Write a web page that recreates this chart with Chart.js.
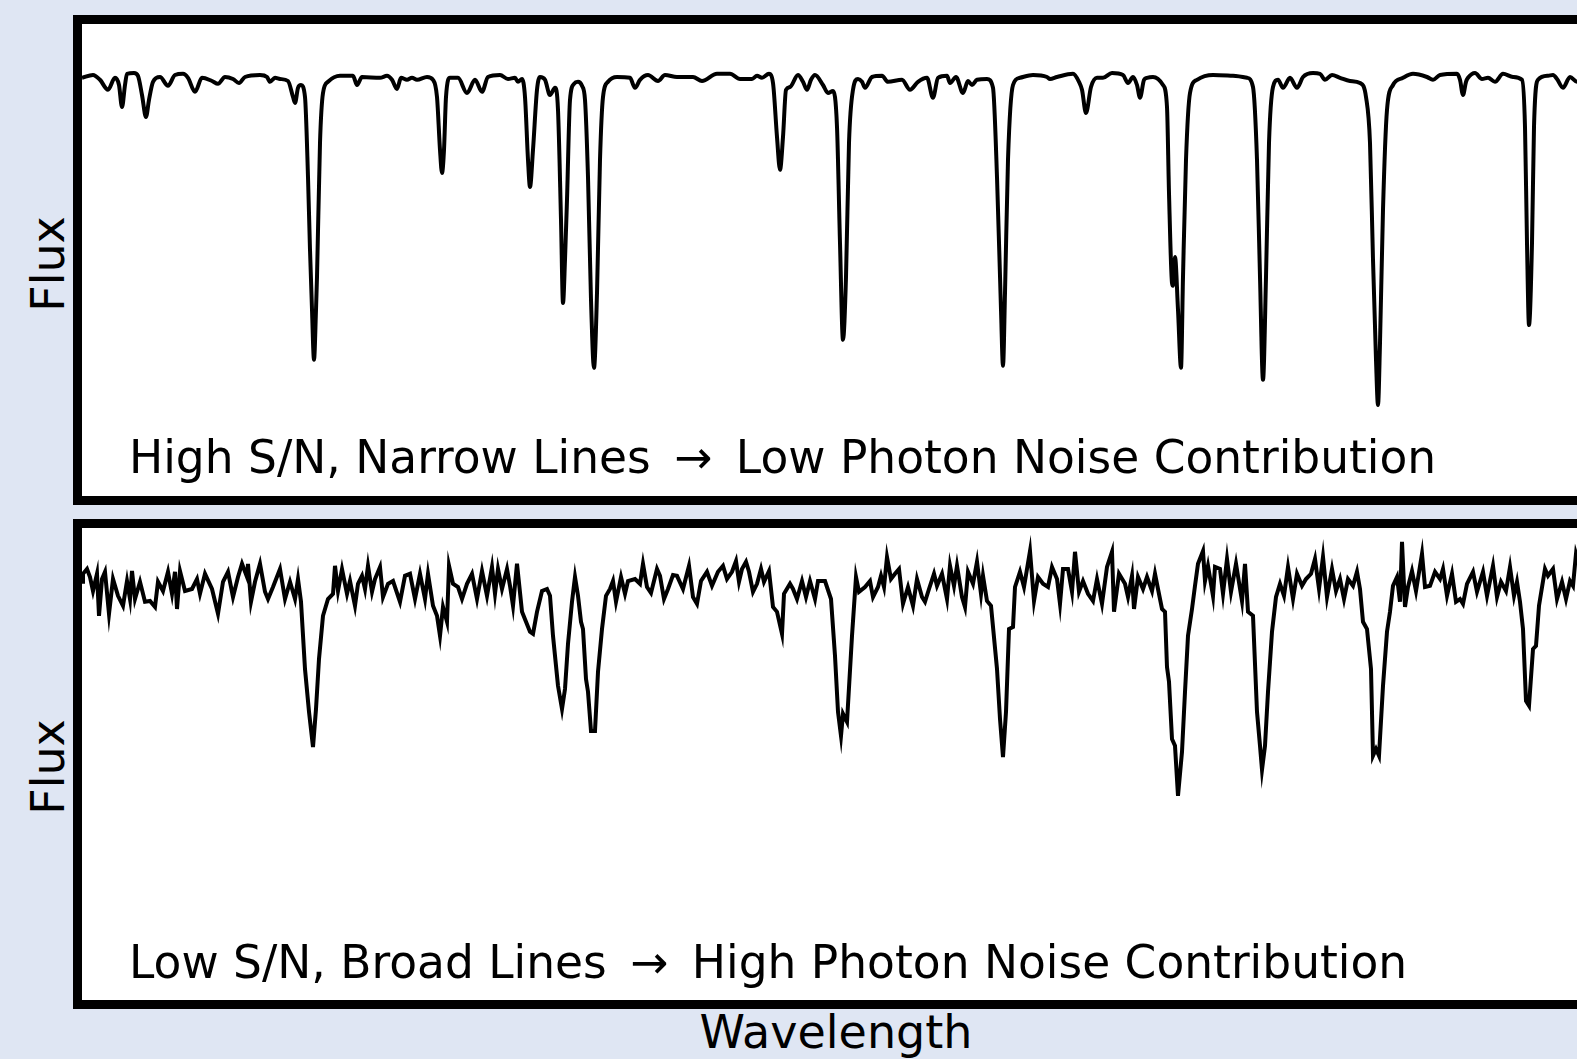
<!DOCTYPE html>
<html>
<head>
<meta charset="utf-8">
<script src="https://cdn.jsdelivr.net/npm/chart.js@4.4.1/dist/chart.umd.min.js"></script>
<style>
  html, body { margin: 0; padding: 0; }
  body {
    width: 1577px; height: 1059px; overflow: hidden; position: relative;
    background: #dfe6f3; font-family: "DejaVu Sans", sans-serif; color: #000;
  }
  .panel {
    position: absolute; left: 73px; width: 1506px; height: 472px;
    border: 9px solid #000; background: #fff;
  }
  .panel canvas { position: absolute; left: 0; top: 0; }
  .note { position: absolute; left: 129px; font-size: 45.5px; line-height: 46px; white-space: nowrap; }
  .note .arrow { margin: 0 9px; }
  .ylab {
    position: absolute; left: 48px; font-size: 46px; line-height: 46px; white-space: nowrap;
    transform: translate(-50%, -50%) rotate(-90deg);
  }
  .xlab { position: absolute; left: 836px; top: 1009px; font-size: 46px; line-height: 46px;
    transform: translateX(-50%); white-space: nowrap; }
</style>
</head>
<body>
<div class="panel" id="topPanel" style="top:15px"><canvas id="topChart"></canvas></div>
<div class="panel" id="bottomPanel" style="top:519px"><canvas id="bottomChart"></canvas></div>
<div class="note" style="top:435px">High S/N, Narrow Lines <span class="arrow">&#8594;</span> Low Photon Noise Contribution</div>
<div class="note" style="top:940px">Low S/N, Broad Lines <span class="arrow">&#8594;</span> High Photon Noise Contribution</div>
<div class="ylab" style="top:264px">Flux</div>
<div class="ylab" style="top:767px">Flux</div>
<div class="xlab">Wavelength</div>
<script>
// high S/N spectrum (top panel), wavelength in arbitrary units
const waveTop = [82, 93, 100, 108, 115, 119, 122, 125, 127, 134, 138, 142, 146, 149, 153, 160, 168, 175, 183, 188,
  195, 202, 212, 218, 225, 233, 239, 245, 260, 267, 270, 275, 280, 288, 293, 295, 298, 301, 305, 308,
  310, 312, 314, 316, 317, 320, 323, 328, 340, 353, 357, 362, 380, 387, 392, 397, 401, 407, 412, 417,
  427, 433, 437, 440, 442, 444, 446, 450, 458, 467, 475, 482, 488, 500, 508, 515, 518, 522, 525, 528,
  530, 533, 537, 540, 545, 550, 555, 558, 561, 563, 565, 567, 570, 574, 578, 582, 585, 588, 591, 594,
  597, 600, 603, 608, 617, 630, 635, 640, 648, 658, 665, 677, 693, 702, 717, 730, 740, 752, 757, 762,
  769, 773, 777, 780, 783, 786, 790, 798, 803, 807, 811, 815, 823, 828, 833, 837, 840, 843, 846, 849,
  853, 858, 862, 865, 872, 882, 888, 902, 910, 918, 927, 933, 938, 947, 950, 956, 963, 968, 972, 977,
  987, 993, 997, 1001, 1003, 1005, 1008, 1013, 1020, 1033, 1047, 1050, 1057, 1073, 1079, 1082, 1086, 1091, 1097, 1103,
  1112, 1123, 1128, 1133, 1137, 1140, 1144, 1147, 1153, 1163, 1167, 1169, 1172, 1173, 1175, 1178, 1181, 1183, 1186, 1190,
  1197, 1213, 1233, 1247, 1253, 1257, 1260, 1263, 1266, 1269, 1273, 1278, 1283, 1290, 1297, 1303, 1313, 1320, 1325, 1332,
  1340, 1350, 1360, 1366, 1370, 1373, 1376, 1378, 1380, 1383, 1387, 1393, 1403, 1413, 1427, 1433, 1440, 1457, 1460, 1463,
  1466, 1468, 1475, 1482, 1488, 1495, 1503, 1513, 1522, 1525, 1527, 1529, 1532, 1534, 1538, 1548, 1553, 1557, 1563, 1570,
  1577, 1590];
const fluxTop = [0.998, 1.005, 0.993, 0.968, 0.998, 0.980, 0.925, 0.980, 1.008, 1.010, 1.003, 0.955, 0.900, 0.943, 0.988, 1.000, 0.978, 1.005, 1.008, 0.998,
  0.963, 0.998, 0.990, 0.983, 1.000, 0.995, 0.985, 1.000, 1.005, 1.000, 0.988, 0.998, 0.995, 0.990, 0.950, 0.935, 0.973, 0.980, 0.950, 0.750,
  0.568, 0.418, 0.293, 0.418, 0.500, 0.835, 0.960, 0.988, 1.003, 1.003, 0.980, 1.000, 0.998, 1.003, 0.993, 0.970, 0.998, 0.993, 0.998, 0.993,
  1.000, 0.993, 0.950, 0.818, 0.760, 0.818, 0.950, 0.998, 0.998, 0.960, 0.993, 0.963, 1.000, 1.005, 0.995, 0.998, 0.988, 0.995, 0.950, 0.793,
  0.725, 0.818, 0.968, 1.000, 0.993, 0.955, 0.973, 0.918, 0.643, 0.435, 0.543, 0.693, 0.943, 0.983, 0.988, 0.978, 0.943, 0.750, 0.443, 0.273,
  0.460, 0.793, 0.950, 0.988, 1.000, 0.998, 0.973, 0.993, 1.005, 0.990, 1.005, 1.000, 1.000, 0.990, 1.008, 1.008, 0.995, 0.995, 1.003, 0.998,
  1.008, 0.985, 0.850, 0.768, 0.850, 0.968, 0.975, 1.005, 0.988, 0.968, 0.993, 1.005, 0.980, 0.960, 0.965, 0.875, 0.585, 0.343, 0.500, 0.835,
  0.968, 0.995, 0.988, 0.973, 1.000, 1.003, 0.988, 0.993, 0.968, 0.988, 0.998, 0.948, 0.998, 1.003, 0.985, 1.000, 0.960, 0.990, 0.980, 0.993,
  0.995, 0.973, 0.750, 0.418, 0.278, 0.460, 0.793, 0.980, 0.998, 1.005, 1.000, 0.995, 1.000, 1.008, 0.988, 0.968, 0.910, 0.975, 0.998, 0.998,
  1.010, 1.005, 0.985, 1.000, 0.980, 0.948, 0.993, 0.998, 1.000, 0.980, 0.925, 0.710, 0.485, 0.478, 0.550, 0.418, 0.273, 0.500, 0.793, 0.960,
  0.993, 1.005, 1.003, 0.998, 0.975, 0.793, 0.500, 0.243, 0.500, 0.835, 0.975, 0.993, 0.973, 0.998, 0.973, 1.000, 1.010, 1.008, 0.993, 1.005,
  0.998, 0.990, 0.985, 0.950, 0.835, 0.543, 0.293, 0.180, 0.335, 0.668, 0.918, 0.980, 0.998, 1.008, 1.000, 0.993, 1.005, 1.008, 0.993, 0.955,
  0.988, 0.998, 1.010, 0.995, 0.998, 0.988, 1.008, 1.000, 0.993, 0.875, 0.585, 0.380, 0.585, 0.875, 0.993, 1.003, 1.005, 0.995, 0.973, 1.000,
  0.988, 0.998];

// low S/N spectrum (bottom panel)
const waveBottom = [82, 83, 87, 90, 93, 97, 99, 102, 105, 109, 113, 118, 123, 127, 130, 132, 135, 140, 145, 150,
  155, 158, 163, 168, 172, 175, 177, 180, 185, 192, 197, 200, 205, 212, 218, 223, 228, 233, 238, 242,
  247, 248, 251, 255, 260, 265, 268, 273, 280, 285, 290, 295, 298, 301, 305, 309, 313, 316, 319, 323,
  328, 333, 335, 338, 342, 347, 350, 355, 358, 362, 365, 368, 372, 375, 380, 383, 388, 393, 400, 405,
  410, 415, 420, 425, 428, 433, 437, 440, 443, 447, 449, 453, 458, 462, 467, 472, 477, 482, 487, 492,
  495, 498, 502, 507, 510, 513, 517, 522, 526, 530, 533, 537, 542, 547, 550, 553, 558, 562, 565, 568,
  572, 575, 578, 581, 583, 586, 588, 591, 595, 598, 602, 606, 610, 613, 616, 621, 625, 628, 635, 640,
  643, 647, 651, 657, 660, 664, 668, 673, 677, 683, 689, 693, 697, 701, 707, 712, 718, 723, 727, 732,
  736, 739, 742, 746, 749, 753, 757, 761, 764, 769, 773, 777, 782, 784, 790, 793, 797, 802, 806, 810,
  815, 818, 825, 831, 835, 838, 841, 843, 847, 852, 856, 859, 865, 870, 873, 878, 881, 884, 887, 891,
  895, 899, 903, 908, 913, 917, 922, 925, 929, 934, 937, 942, 947, 950, 954, 957, 962, 965, 968, 973,
  977, 981, 983, 987, 991, 997, 1000, 1003, 1006, 1009, 1013, 1015, 1020, 1024, 1030, 1034, 1038, 1043, 1048, 1052,
  1057, 1060, 1063, 1068, 1072, 1075, 1079, 1083, 1088, 1093, 1097, 1102, 1107, 1112, 1114, 1119, 1125, 1128, 1132, 1134,
  1138, 1143, 1147, 1152, 1155, 1158, 1162, 1165, 1167, 1169, 1172, 1175, 1178, 1182, 1185, 1188, 1192, 1195, 1198, 1203,
  1205, 1208, 1213, 1215, 1220, 1223, 1227, 1231, 1236, 1242, 1245, 1248, 1253, 1257, 1260, 1262, 1265, 1268, 1272, 1276,
  1280, 1284, 1288, 1293, 1297, 1302, 1306, 1311, 1315, 1319, 1323, 1327, 1332, 1336, 1340, 1344, 1348, 1353, 1357, 1360,
  1363, 1367, 1371, 1373, 1376, 1379, 1383, 1387, 1390, 1393, 1397, 1400, 1402, 1405, 1408, 1412, 1416, 1422, 1425, 1430,
  1435, 1440, 1443, 1447, 1452, 1456, 1460, 1463, 1467, 1473, 1477, 1483, 1487, 1493, 1497, 1501, 1506, 1510, 1514, 1517,
  1520, 1523, 1526, 1529, 1533, 1536, 1539, 1545, 1548, 1553, 1557, 1562, 1566, 1570, 1573, 1576, 1585];
const fluxBottom = [0.998, 1.018, 1.030, 1.010, 0.975, 1.018, 0.913, 1.005, 1.023, 0.918, 1.005, 0.963, 0.938, 1.000, 0.955, 1.025, 0.955, 0.998, 0.948, 0.950,
  0.935, 0.998, 0.975, 1.023, 0.968, 1.023, 0.930, 1.025, 0.975, 0.980, 1.005, 0.968, 1.018, 0.980, 0.918, 0.998, 1.023, 0.960, 1.010, 1.043,
  1.010, 1.043, 0.948, 0.998, 1.043, 0.973, 0.955, 0.985, 1.030, 0.955, 0.998, 0.955, 1.005, 0.948, 0.780, 0.673, 0.585, 0.680, 0.805, 0.913,
  0.955, 0.968, 1.038, 0.975, 1.030, 0.968, 1.000, 0.938, 0.993, 1.013, 0.980, 1.038, 0.973, 1.005, 1.035, 0.960, 0.993, 1.000, 0.948, 1.013,
  1.018, 0.955, 1.018, 0.955, 1.018, 0.938, 0.913, 0.863, 0.935, 0.898, 1.038, 0.993, 0.985, 0.955, 0.993, 1.018, 0.955, 1.025, 0.963, 1.035,
  0.968, 1.030, 0.980, 1.030, 0.988, 0.938, 1.043, 0.923, 0.898, 0.873, 0.868, 0.923, 0.975, 0.980, 0.963, 0.863, 0.738, 0.680, 0.730, 0.843,
  0.948, 1.010, 0.963, 0.898, 0.880, 0.755, 0.723, 0.625, 0.625, 0.773, 0.880, 0.963, 0.980, 1.000, 0.948, 1.010, 0.968, 1.000, 1.005, 0.993,
  1.043, 0.985, 0.970, 1.030, 1.013, 0.955, 0.980, 1.015, 1.013, 0.980, 1.038, 0.960, 0.943, 1.000, 1.023, 0.988, 1.023, 1.038, 1.005, 1.023,
  1.050, 0.998, 1.030, 1.048, 1.023, 0.973, 0.993, 1.030, 0.998, 1.025, 0.935, 0.923, 0.868, 0.968, 0.993, 0.980, 0.955, 1.000, 0.960, 1.000,
  0.955, 1.000, 1.000, 0.955, 0.813, 0.673, 0.613, 0.668, 0.648, 0.863, 1.010, 0.973, 0.985, 1.000, 0.960, 0.985, 1.013, 0.985, 1.060, 1.005,
  1.018, 1.030, 0.943, 0.985, 0.938, 1.005, 0.960, 0.948, 0.980, 1.018, 0.988, 1.018, 0.955, 1.038, 0.988, 1.038, 0.960, 0.935, 1.023, 0.993,
  1.048, 0.968, 1.013, 0.950, 0.938, 0.780, 0.655, 0.560, 0.673, 0.880, 0.885, 0.985, 1.023, 0.985, 1.075, 0.950, 1.010, 0.993, 0.985, 1.035,
  1.005, 0.943, 1.030, 1.030, 0.973, 1.073, 0.973, 1.000, 0.968, 0.950, 1.005, 0.943, 1.035, 1.073, 0.923, 1.018, 0.993, 0.960, 1.013, 0.930,
  1.010, 0.980, 1.010, 0.975, 1.018, 0.980, 0.930, 0.923, 0.785, 0.748, 0.605, 0.588, 0.463, 0.573, 0.723, 0.863, 0.930, 0.988, 1.043, 1.075,
  1.000, 1.038, 0.963, 1.035, 1.030, 0.968, 1.055, 0.973, 1.043, 0.950, 1.043, 0.923, 0.913, 0.673, 0.588, 0.528, 0.588, 0.723, 0.873, 0.960,
  0.993, 0.963, 1.035, 0.955, 1.018, 0.988, 1.005, 1.018, 1.055, 0.980, 1.060, 0.960, 1.030, 0.975, 1.005, 0.955, 1.005, 0.988, 1.023, 0.980,
  0.898, 0.880, 0.780, 0.563, 0.580, 0.563, 0.738, 0.873, 0.923, 0.988, 1.010, 0.948, 1.098, 0.935, 0.985, 1.025, 0.975, 1.068, 0.985, 0.988,
  1.023, 1.005, 1.030, 0.963, 1.018, 0.948, 0.955, 0.943, 0.993, 1.023, 0.973, 1.023, 0.963, 1.038, 0.960, 0.998, 0.975, 1.035, 0.963, 0.998,
  0.948, 0.880, 0.700, 0.688, 0.830, 0.838, 0.938, 1.030, 1.013, 1.030, 0.955, 0.998, 0.955, 1.000, 0.988, 1.068, 0.993];

// axis limits shared by both panels
const waveMin = 82;
const waveMax = 1588;
const fluxMin = -0.0475;
const fluxMax = 1.1325;

function makePanel(canvasId, wave, flux, smooth) {
  const points = wave.map((w, i) => ({ x: w, y: flux[i] }));
  return new Chart(document.getElementById(canvasId), {
    type: "line",
    data: {
      datasets: [
        {
          data: points,
          borderColor: "#000",
          borderWidth: 4,
          pointRadius: 0,
          fill: false,
          tension: smooth ? 0.4 : 0,
          cubicInterpolationMode: smooth ? "monotone" : "default",
        },
      ],
    },
    options: {
      responsive: true,
      maintainAspectRatio: false,
      animation: false,
      layout: { padding: 0 },
      plugins: { legend: { display: false }, tooltip: { enabled: false } },
      scales: {
        x: { type: "linear", min: waveMin, max: waveMax, display: false },
        y: { min: fluxMin, max: fluxMax, display: false },
      },
    },
  });
}

makePanel("topChart", waveTop, fluxTop, true);
makePanel("bottomChart", waveBottom, fluxBottom, false);
</script>
</body>
</html>
